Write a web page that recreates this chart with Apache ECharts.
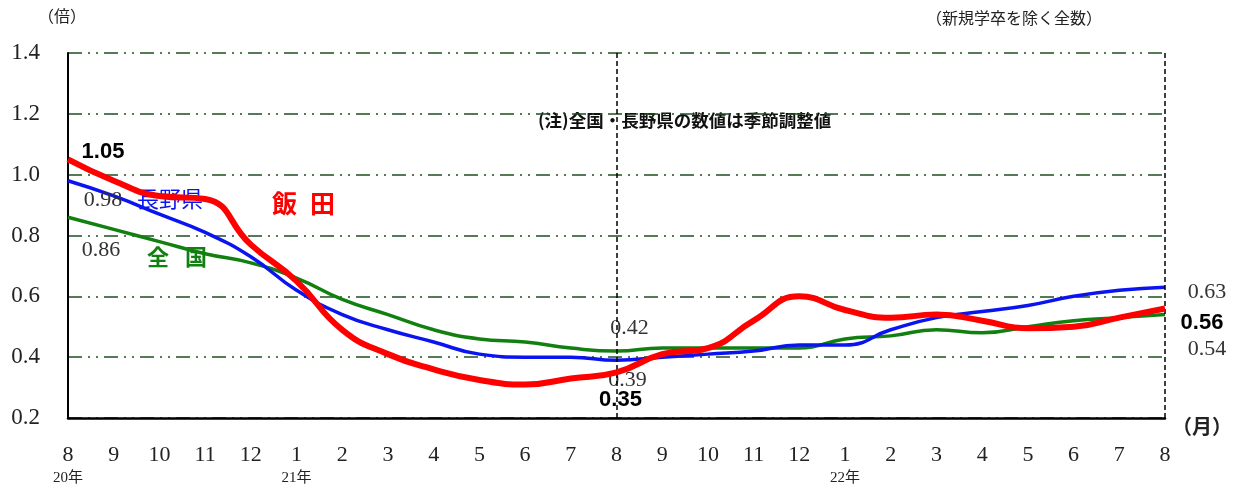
<!DOCTYPE html>
<html><head><meta charset="utf-8">
<script src="https://cdn.jsdelivr.net/npm/echarts@6/dist/echarts.min.js"></script>
<style>html,body{margin:0;padding:0;background:#fff}#c{width:1238px;height:491px}</style>
</head><body><div id="c"></div>
<script>
var months = ['8','9','10','11','12','1','2','3','4','5','6','7','8','9','10','11','12','1','2','3','4','5','6','7','8'];
var yearLabels = {0:'20年', 5:'21年', 17:'22年'};
var iida   = [1.05,0.98,0.93,0.92,0.77,0.65,0.49,0.41,0.36,0.325,0.31,0.33,0.35,0.41,0.43,0.52,0.60,0.555,0.53,0.54,0.52,0.495,0.50,0.53,0.56];
var nagano = [0.98,0.93,0.87,0.81,0.73,0.62,0.54,0.49,0.45,0.41,0.40,0.40,0.39,0.40,0.41,0.42,0.44,0.44,0.49,0.53,0.55,0.57,0.60,0.62,0.63];
var zenkoku= [0.86,0.82,0.78,0.74,0.71,0.66,0.59,0.54,0.49,0.46,0.45,0.43,0.42,0.43,0.43,0.43,0.43,0.46,0.47,0.49,0.48,0.50,0.52,0.53,0.54];
var yTicks = [0.2,0.4,0.6,0.8,1.0,1.2,1.4];

var serif = "'Liberation Serif','DejaVu Serif','Noto Sans CJK JP',serif";
var cjk = "'Noto Sans CJK JP','Noto Sans',sans-serif";

function mk(vals, cfg){
  return vals.map(function(v,i){
    if(cfg[i]){
      return {value:v, label:Object.assign({show:true, position:'inside', formatter:function(p){return p.value.toFixed(2);}}, cfg[i])};
    }
    return {value:v, label:{show:false}};
  });
}
var plain = {color:'#333', fontFamily:serif, fontSize:22};
var bold = {color:'#000', fontFamily:"'Liberation Sans','DejaVu Sans',sans-serif", fontWeight:'bold', fontSize:22};

var chart = echarts.init(document.getElementById('c'));
chart.setOption({
  animation:false,
  grid:{left:68,right:73,top:53,bottom:73},
  xAxis:{type:'category',data:months,boundaryGap:false,
    axisLine:{lineStyle:{color:'#000',width:2.5}},axisTick:{show:false},
    axisLabel:{margin:25,interval:0,
      formatter:function(v,i){return yearLabels[i]?('{m|'+v+'}\n{y|'+yearLabels[i]+'}'):'{m|'+v+'}';},
      rich:{m:{fontFamily:serif,fontSize:22,color:'#222',lineHeight:24},
            y:{fontFamily:serif,fontSize:15,color:'#222',lineHeight:22}}},
    splitLine:{show:false}},
  yAxis:{type:'value',min:0.2,max:1.4,interval:0.2,
    axisLine:{show:true,lineStyle:{color:'#000',width:2}},axisTick:{show:false},
    axisLabel:{margin:28,fontFamily:serif,fontSize:23,color:'#222',formatter:function(v){return v.toFixed(1);}},
    splitLine:{show:true,lineStyle:{color:'#1f4f1f',width:1.5,type:[14,6,2,6,2,6]}}},
  series:[
    {name:'全国',type:'line',smooth:0.5,symbol:'circle',symbolSize:0,showSymbol:true,data:mk(zenkoku,{
        0:Object.assign({offset:[33,33]},plain),
        12:Object.assign({offset:[13,-23]},plain),
        24:Object.assign({offset:[42,35]},plain)}),
      itemStyle:{color:'#118011'},
      lineStyle:{color:'#118011',width:3.5},z:3,
      markLine:{silent:true,symbol:'none',label:{show:false},
        lineStyle:{color:'#000',type:[5,3],width:1.5},
        data:[{xAxis:12},{xAxis:24}]}},
    {name:'長野県',type:'line',smooth:0.5,symbol:'circle',symbolSize:0,showSymbol:true,data:mk(nagano,{
        0:Object.assign({offset:[35,19]},plain),
        12:Object.assign({offset:[11,20]},plain),
        24:Object.assign({offset:[42,5]},plain)}),
      itemStyle:{color:'#0a14f0'},
      lineStyle:{color:'#0a14f0',width:3.5},z:4},
    {name:'飯田',type:'line',smooth:0.5,symbol:'circle',symbolSize:0,showSymbol:true,data:mk(iida,{
        0:Object.assign({offset:[35,-8]},bold),
        12:Object.assign({offset:[4,28]},bold),
        24:Object.assign({offset:[37,14]},bold)}),
      itemStyle:{color:'#ff0000'},
      lineStyle:{color:'#ff0000',width:6},z:5}
  ],
  graphic:[
    {type:'text',left:38,top:8,style:{text:'（倍）',font:'16px '+cjk,fill:'#222'}},
    {type:'text',left:926,top:10,style:{text:'（新規学卒を除く全数）',font:'16px '+cjk,fill:'#222'}},
    {type:'text',left:538,top:112,style:{text:'(注)全国・長野県の数値は季節調整値',font:'bold 17.5px '+cjk,fill:'#111'}},
    {type:'text',left:1172,top:416,style:{text:'（月）',font:'bold 20px '+cjk,fill:'#222'}},
    {type:'text',left:137,top:188,style:{text:'長野県',font:'22px '+cjk,fill:'#0a14f0'}},
    {type:'text',left:147,top:246,style:{text:'全',font:'bold 22px '+cjk,fill:'#118011'}},
    {type:'text',left:185,top:246,style:{text:'国',font:'bold 22px '+cjk,fill:'#118011'}},
    {type:'text',left:272,top:191,style:{text:'飯',font:'bold 25px '+cjk,fill:'#ff0000'}},
    {type:'text',left:310,top:191,style:{text:'田',font:'bold 25px '+cjk,fill:'#ff0000'}}
  ]
});
</script></body></html>
